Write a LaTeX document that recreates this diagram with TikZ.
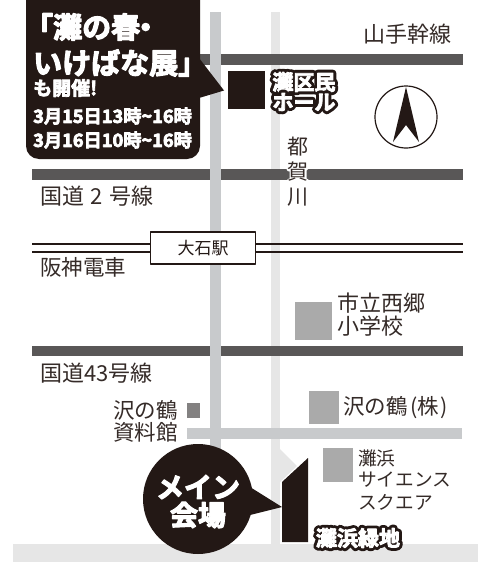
\documentclass[tikz,border=0pt]{standalone}
\usepackage{fontspec}
\setmainfont{Noto Sans CJK JP}
\newfontfamily\jpb[FakeBold=4]{Noto Sans CJK JP Bold}
\newfontfamily\jphalo[FakeBold=32]{Noto Sans CJK JP Bold}
\newfontfamily\jpwhalo[FakeBold=16]{Noto Sans CJK JP}
\definecolor{ink}{HTML}{231815}
\definecolor{roadD}{HTML}{595757}
\definecolor{roadM}{HTML}{C8CACC}
\definecolor{roadL}{HTML}{E6E6E6}
\definecolor{bldg}{HTML}{AAAAAA}
\newcommand{\fs}[1]{\fontsize{#1}{#1}\selectfont}
\newcommand{\halo}[2]{\makebox[0pt][c]{\fs{#1}\jphalo\color{ink}#2}\makebox[0pt][c]{\fs{#1}\jpb\color{white}#2}}
\tikzset{
  x=1pt,y=-1pt,
  lbl/.style={inner sep=0pt,text=ink!92!white,anchor=west},
  wb/.style={inner sep=0pt,text=white,anchor=west},
}
\begin{document}
\begin{tikzpicture}[line join=round,miter limit=1]
\pgfsetroundjoin
\useasboundingbox (0,0) rectangle (478,562);
\fill[white] (0,0) rectangle (478,562);
% bottom band
\fill[roadL] (13,543.5) rectangle (478,562);
% light vertical road
\fill[roadL] (271,12) rectangle (280,543.5);
\fill[roadL] (280,449) -- (297,466) -- (280,482) -- cycle;
% main roads
\fill[roadD] (200,54) rectangle (462.5,64.5);
\fill[roadD] (32,169) rectangle (462.5,180);
\fill[roadD] (32,345.5) rectangle (462.5,356);
% left vertical road
\fill[roadM] (210,12) rectangle (220.5,490);
\fill[roadM] (187,428) rectangle (462,439);
% railway
\draw[ink,line width=1.4pt] (32,243.8) -- (462.5,243.8) (32,252) -- (462.5,252);
\node[draw=ink,fill=white,line width=1.6pt,line join=miter,minimum width=105pt,minimum height=32pt,inner sep=0pt,text=ink] (oishi) at (203,248) {\fs{17}大石駅};
% buildings
\fill[ink] (228,71) rectangle (265,109);
\fill[bldg] (295,302) rectangle (332,340);
\fill[bldg] (309,391) rectangle (339,424);
\fill[roadD!75!white] (187,403) rectangle (200,418);
\fill[bldg] (323,448) rectangle (353,481.5);
\fill[ink] (282,482) -- (308,458) -- (308,542) -- (282,542) -- cycle;
% compass
\draw[ink,line width=1.2pt,fill=white] (406,117) circle (31);
\fill[ink] (406,87) -- (419,142) -- (406,125) -- (393,142) -- cycle;
% callout
\fill[ink,rounded corners=13pt] (26,-14) rectangle (200,159);
\fill[ink] (199,58) -- (224,90.5) -- (199,98) -- cycle;
\node[wb] (t1) at (24,27) {\fs{29}\jpb 「灘の春\kern-9pt ・};
\node[wb] (t2) at (33,63) {\fs{29}\jpb いけばな展」};
\node[wb] (t3) at (33,88) {\fs{19}\jpb も開催!};
\node[wb] (t4) at (33,116) {\fs{18.2}\jpb 3月15日13時\textasciitilde16時};
\node[wb] (t5) at (33,140) {\fs{18.2}\jpb 3月16日10時\textasciitilde16時};
% bubble
\fill[ink] (198,499) circle (55);
\fill[ink] (250,487) -- (282,507) -- (250,515) -- cycle;
\node[inner sep=0pt,text=white] (m1) at (198,487) {\fs{28}\jpb メイン};
\node[inner sep=0pt,text=white] (m2) at (198,515) {\fs{28}\jpb 会場};
% halo labels
\node[inner sep=0pt] (h1) at (304,82) {\halo{21}{灘区民}};
\node[inner sep=0pt] (h2) at (304,102) {\halo{21}{ホール}};
\node[inner sep=0pt] (h3) at (358,538) {\halo{21}{灘浜緑地}};
% labels
\node[lbl] (l1) at (363,34) {\fs{22}山手幹線};
\node[inner sep=0pt,text=ink!92!white] (l2) at (298,147) {\fs{21}都};
\node[inner sep=0pt] (l3) at (298,172) {\makebox[0pt][c]{\fs{21}\jpwhalo\color{white}賀}\makebox[0pt][c]{\fs{21}\color{ink!92!white}賀}};
\node[inner sep=0pt,text=ink!92!white] (l4) at (298,197) {\fs{21}川};
\node[lbl] (l5) at (40,196) {\fs{22}国道\hspace{6.5pt}2\hspace{6.5pt}号線};
\node[lbl] (l6) at (40,267) {\fs{21.5}阪神電車};
\node[lbl] (l7) at (337,303) {\fs{22}市立西郷};
\node[lbl] (l8) at (337,326) {\fs{22}小学校};
\node[lbl] (l9) at (40,373) {\fs{22}国道43号線};
\node[lbl] (l10) at (113,410) {\fs{21.5}沢の鶴};
\node[lbl] (l11) at (113,432) {\fs{21.5}資料館};
\node[lbl] (l12) at (343,408) {\fs{21.5}沢の鶴\hspace{3pt}(株\hspace{1pt})};
\node[lbl] (l13) at (358,458) {\fs{18.7}灘浜};
\node[lbl] (l14) at (358,480) {\fs{18.7}サイエンス};
\node[lbl] (l15) at (358,502) {\fs{18.7}スクエア};
\end{tikzpicture}
\end{document}
